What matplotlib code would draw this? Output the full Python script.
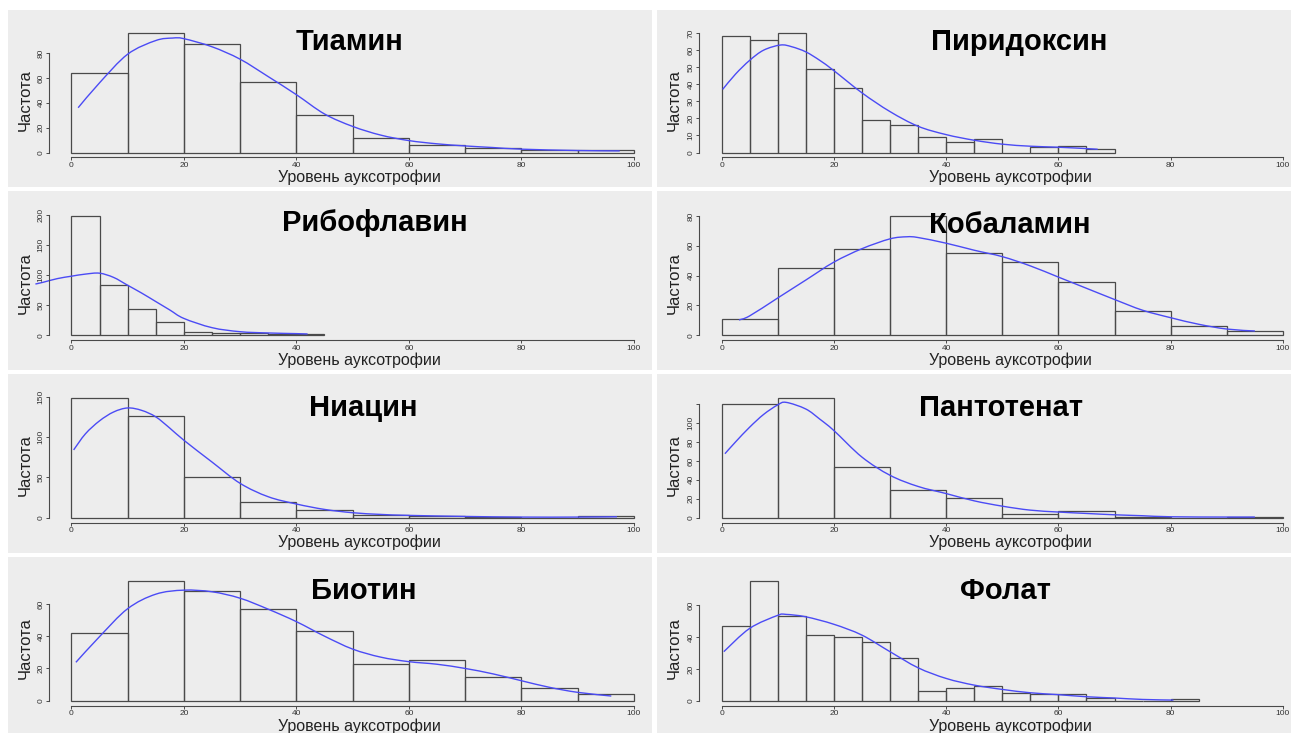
import matplotlib.pyplot as plt
from matplotlib.patches import Rectangle, PathPatch
from matplotlib.path import Path

plt.rcParams['font.family'] = ['Liberation Sans', 'DejaVu Sans']

# Общие подписи
x_label = 'Уровень ауксотрофии'
y_label = 'Частота'
x_ticks = [0, 20, 40, 60, 80, 100]

# Тиамин
thiamine_bin = 10
thiamine_counts = [64, 96, 87, 57, 30, 12, 6, 4, 2, 2]
thiamine_dens_x = [1.2, 5, 10, 15, 18, 20, 25, 30, 35, 40, 45, 50, 55, 60, 65, 70, 75, 80, 90, 97.5]
thiamine_dens_y = [36, 56, 79, 90, 92, 91.5, 85, 75, 61, 46.5, 31, 21, 14, 9.6, 7, 5.3, 4, 2.7, 1.6, 1.3]
thiamine_yticks = [0, 20, 40, 60, 80]

# Пиридоксин
pyridoxine_bin = 5
pyridoxine_counts = [68, 66, 70, 49, 38, 19, 16, 9, 6, 8, 0, 3, 4, 2]
pyridoxine_dens_x = [0.2, 2.5, 5, 7.5, 10.5, 12.5, 15, 17.5, 20, 25, 30, 35, 40, 45, 50, 55, 60, 65, 67]
pyridoxine_dens_y = [37, 46, 54, 60, 63, 62, 59, 54, 48, 35, 24, 15.4, 10.5, 7.2, 4.9, 3.7, 3.1, 2.3, 1.9]
pyridoxine_yticks = [0, 10, 20, 30, 40, 50, 60, 70]

# Рибофлавин
riboflavin_bin = 5
riboflavin_counts = [198, 83, 43, 22, 5, 4, 4, 3, 2]
riboflavin_dens_x = [-6.4, -5, -2.5, 0, 2.5, 5, 7.5, 10, 12.5, 15, 17.5, 20, 25, 30, 35, 40, 42]
riboflavin_dens_y = [85, 88, 94, 98, 101.5, 103, 96, 83, 70, 56, 42, 28, 12.7, 6, 3.9, 2.8, 2.2]
riboflavin_yticks = [0, 50, 100, 150, 200]

# Кобаламин
cobalamin_bin = 10
cobalamin_counts = [11, 45, 58, 80, 55, 49, 36, 16, 6, 3]
cobalamin_dens_x = [3.1, 5, 10, 15, 20, 25, 30, 33, 35, 40, 45, 50, 55, 60, 65, 70, 75, 80, 85, 90, 95]
cobalamin_dens_y = [10.3, 13, 25, 37, 49, 58, 64.6, 66, 65.5, 61.7, 57, 52.7, 46.5, 39, 31.5, 24, 16.8, 11.8, 7.4, 4.2, 2.9]
cobalamin_yticks = [0, 20, 40, 60, 80]

# Ниацин
niacin_bin = 10
niacin_counts = [148, 126, 50, 19, 10, 3, 2, 1, 0, 2]
niacin_dens_x = [0.4, 2.5, 5, 7.5, 10, 12.5, 15, 17.5, 20, 25, 30, 35, 40, 45, 50, 55, 60, 70, 80, 90, 97]
niacin_dens_y = [84, 104, 120, 131, 136, 133, 125, 111, 96, 69, 42.6, 26, 17, 10.3, 6.2, 4.1, 2.9, 1.6, 0.8, 0.8, 1.2]
niacin_yticks = [0, 50, 100, 150]

# Пантотенат
pantothenate_bin = 10
pantothenate_counts = [120, 126, 53, 29, 21, 4, 7, 1, 0, 1]
pantothenate_dens_x = [0.6, 2.5, 5, 7.5, 10, 11.5, 15, 17.5, 20, 25, 30, 35, 40, 45, 50, 55, 60, 65, 70, 75, 80, 90, 95]
pantothenate_dens_y = [67.5, 80, 95.5, 109, 119, 121.7, 114.7, 104, 92, 64, 44.8, 33, 25.5, 17.8, 12.2, 8, 6, 4.5, 3.1, 2.1, 1, 0.7, 0.7]
pantothenate_yticks = [0, 20, 40, 60, 80, 100, 120]

# Биотин
biotin_bin = 10
biotin_counts = [42, 74, 68, 57, 43, 23, 25, 15, 8, 4]
biotin_dens_x = [0.8, 5, 10, 15, 20, 25, 30, 35, 40, 45, 50, 55, 60, 65, 70, 75, 80, 85, 90, 96]
biotin_dens_y = [23.8, 39.7, 57, 66, 68.5, 67.5, 63.5, 56.7, 49, 40, 32, 27, 24.2, 22.6, 20, 16.6, 12.4, 8.3, 5.2, 2.9]
biotin_yticks = [0, 20, 40, 60]

# Фолат
folate_bin = 5
folate_counts = [47, 75, 53, 41, 40, 37, 27, 6, 8, 9, 5, 4, 4, 2, 0, 0, 1]
folate_dens_x = [0.4, 5, 10, 11.5, 15, 20, 25, 30, 35, 40, 45, 50, 55, 60, 65, 70, 75, 80.5]
folate_dens_y = [30.8, 45.4, 53.6, 54.2, 52.7, 48, 41.2, 30.8, 20.7, 14, 9.8, 7.1, 5, 3.8, 2.5, 1.7, 0.8, 0.4]
folate_yticks = [0, 20, 40, 60]

panels = [
    ('Тиамин', thiamine_bin, thiamine_counts, thiamine_dens_x, thiamine_dens_y, thiamine_yticks),
    ('Пиридоксин', pyridoxine_bin, pyridoxine_counts, pyridoxine_dens_x, pyridoxine_dens_y, pyridoxine_yticks),
    ('Рибофлавин', riboflavin_bin, riboflavin_counts, riboflavin_dens_x, riboflavin_dens_y, riboflavin_yticks),
    ('Кобаламин', cobalamin_bin, cobalamin_counts, cobalamin_dens_x, cobalamin_dens_y, cobalamin_yticks),
    ('Ниацин', niacin_bin, niacin_counts, niacin_dens_x, niacin_dens_y, niacin_yticks),
    ('Пантотенат', pantothenate_bin, pantothenate_counts, pantothenate_dens_x, pantothenate_dens_y, pantothenate_yticks),
    ('Биотин', biotin_bin, biotin_counts, biotin_dens_x, biotin_dens_y, biotin_yticks),
    ('Фолат', folate_bin, folate_counts, folate_dens_x, folate_dens_y, folate_yticks),
]

# Раскладка в пикселях
W, H = 1291, 733
bg_cols = [(8, 652), (657, 1291)]
bg_rows = [(10, 187), (191, 370), (374, 553), (557, 733)]
plot_cols = [(48.9, 656.3), (699.1, 1305.4)]
plot_rows = [(28.3, 157.3), (211.1, 340.1), (393.5, 522.5), (576.5, 705.5)]
title_pos = [(350, 50), (1019, 50), (375, 231), (1010, 233),
             (363, 416), (1001, 416), (364, 599), (1005, 599)]
xlabel_cx = [359, 1010]
ylabel_cx = [25, 674.5]

line_col = '#4a4a4a'
curve_col = '#4b4bf5'


def smooth_path(xs, ys):
    # кривая Безье, проходящая через все точки плотности
    pts = list(zip(xs, ys))
    n = len(pts)
    verts = [pts[0]]
    codes = [Path.MOVETO]
    for k in range(n - 1):
        p0 = pts[k - 1] if k > 0 else pts[k]
        p1 = pts[k]
        p2 = pts[k + 1]
        p3 = pts[k + 2] if k + 2 < n else pts[k + 1]
        c1 = (p1[0] + (p2[0] - p0[0]) / 6, p1[1] + (p2[1] - p0[1]) / 6)
        c2 = (p2[0] - (p3[0] - p1[0]) / 6, p2[1] - (p3[1] - p1[1]) / 6)
        verts += [c1, c2, p2]
        codes += [Path.CURVE4] * 3
    return Path(verts, codes)


fig = plt.figure(figsize=(W / 100, H / 100), dpi=100)
fig.patch.set_facecolor('white')

for i, (name, bw, counts, dx, dy, yt) in enumerate(panels):
    row, col = i // 2, i % 2
    bx0, bx1 = bg_cols[col]
    by0, by1 = bg_rows[row]
    fig.add_artist(Rectangle((bx0 / W, 1 - by1 / H), (bx1 - bx0) / W, (by1 - by0) / H,
                             transform=fig.transFigure, facecolor='#ededed',
                             edgecolor='none', zorder=-10))

    px0, px1 = plot_cols[col]
    top, bottom = plot_rows[row]
    ax = fig.add_axes([px0 / W, 1 - bottom / H, (px1 - px0) / W, (bottom - top) / H])
    ax.set_facecolor('none')

    # гистограмма
    edges = [k * bw for k in range(len(counts))]
    ax.bar(edges, counts, width=bw, align='edge', fill=False,
           edgecolor=line_col, linewidth=0.9)
    # плотность
    ax.add_patch(PathPatch(smooth_path(dx, dy), fill=False, edgecolor=curve_col,
                           linewidth=1.0, clip_on=False))

    ymax = max(counts)
    ax.set_xlim(-4, 104)
    ax.set_ylim(-0.04 * ymax, 1.04 * ymax)
    ax.set_xticks(x_ticks)
    ax.set_xticklabels([str(t) for t in x_ticks])
    ax.set_yticks(yt)
    ylabels = [str(t) for t in yt]
    if name == 'Пантотенат':
        ylabels[-1] = ''
    ax.set_yticklabels(ylabels, rotation=90, va='center')

    for s in ['top', 'right']:
        ax.spines[s].set_visible(False)
    for s in ['left', 'bottom']:
        ax.spines[s].set_color(line_col)
        ax.spines[s].set_linewidth(0.8)
    ax.spines['bottom'].set_bounds(0, 100)
    ax.spines['left'].set_bounds(0, yt[-1])
    ax.tick_params(direction='out', length=2.2, width=0.7, color=line_col,
                   labelsize=6, pad=1, labelcolor='#333333')

    tx, ty = title_pos[i]
    fig.text(tx / W, 1 - ty / H, name, ha='center', va='baseline',
             fontsize=21, fontweight='bold')
    fig.text(xlabel_cx[col] / W, 1 - (bottom + 25) / H, x_label, ha='center',
             va='baseline', fontsize=11.5, color='#222222')
    fig.text(ylabel_cx[col] / W, 1 - ((top + bottom) / 2 + 7) / H, y_label,
             rotation=90, ha='center', va='center', fontsize=12, color='#222222')

fig.savefig('out.png', dpi=100)
